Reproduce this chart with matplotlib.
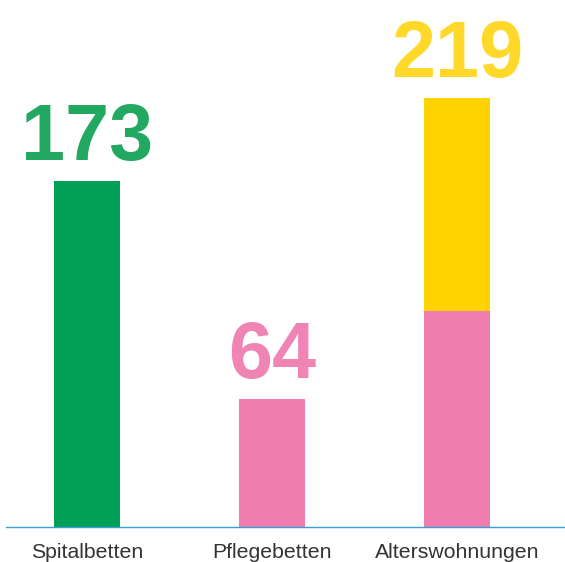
import matplotlib.pyplot as plt
import numpy as np

# Data
categories = ['Spitalbetten', 'Pflegebetten', 'Alterswohnungen']
bottom_vals = [173, 64, 108]     # lower segment
top_vals = [0, 0, 106.5]         # upper (yellow) segment, Alterswohnungen only
totals = [173, 64, 219]          # printed labels

bottom_colors = ['#00A056', '#F07EB0', '#F07EB0']
label_colors = ['#22A861', '#F085B5', '#FFD82A']
yellow = '#FFD200'

fig = plt.figure(figsize=(5.65, 5.62), dpi=100)
ax = fig.add_axes([6 / 565, 35 / 562, 559 / 565, 527 / 562])

x = np.arange(len(categories))
ax.bar(x, bottom_vals, width=0.357, color=bottom_colors, zorder=2)
ax.bar(x, top_vals, width=0.357, bottom=bottom_vals, color=yellow, zorder=2)

# value labels on top of bars
heights = np.array(bottom_vals) + np.array(top_vals)
for i, txt in enumerate(totals):
    ax.annotate(str(txt), xy=(x[i], heights[i]), xytext=(0, 15),
                textcoords='offset points', ha='center', va='baseline',
                fontsize=57, fontweight='bold', color=label_colors[i],
                family='Liberation Sans')

ax.set_xlim(-0.438, 2.584)
ax.set_ylim(0, 263.5)

for s in ['top', 'right', 'left']:
    ax.spines[s].set_visible(False)
ax.spines['bottom'].set_color('#3A9FD5')
ax.spines['bottom'].set_linewidth(1)
ax.spines['bottom'].set_zorder(3)

ax.set_yticks([])
ax.set_xticks(x)
ax.set_xticklabels(categories, fontsize=15.3, color='#333333', family='Liberation Sans')
ax.tick_params(axis='x', length=0, pad=11.5)

fig.savefig('out.png', dpi=100)
